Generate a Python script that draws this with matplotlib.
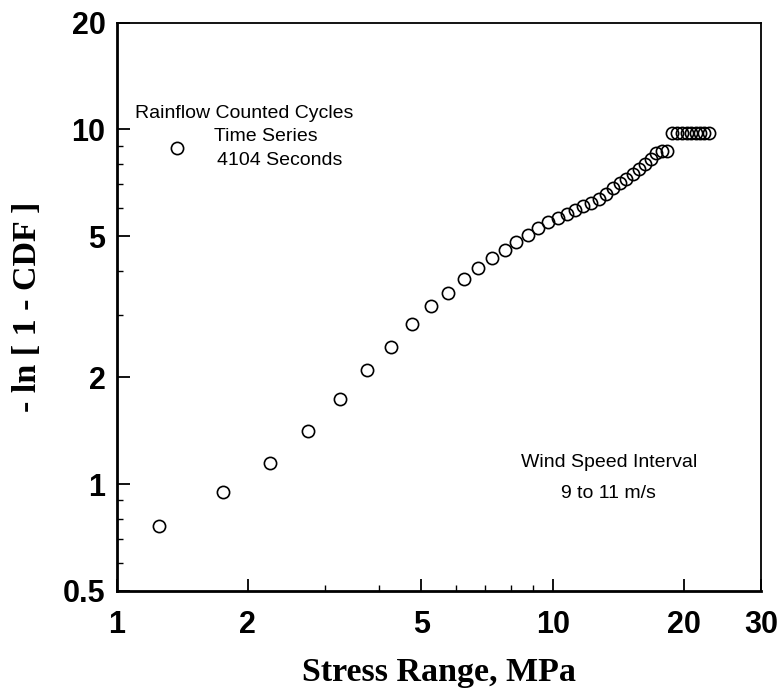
import matplotlib
matplotlib.use("Agg")
import matplotlib.pyplot as plt
from matplotlib.ticker import FixedLocator, FixedFormatter, NullFormatter

# ---- data ----
stress_range = [1.25, 1.75, 2.25, 2.75, 3.25, 3.75, 4.25, 4.75, 5.25, 5.75,
                6.25, 6.75, 7.25, 7.75, 8.25, 8.75, 9.25, 9.75, 10.25, 10.75,
                11.25, 11.75, 12.25, 12.75, 13.25, 13.75, 14.25, 14.75, 15.25, 15.75,
                16.25, 16.75, 17.25, 17.75, 18.25,
                18.75, 19.25, 19.75, 20.25, 20.75, 21.25, 21.75, 22.25, 22.75]
neg_ln_1_cdf = [0.761, 0.950, 1.146, 1.411, 1.737, 2.094, 2.444, 2.835, 3.181, 3.47,
                3.78, 4.07, 4.35, 4.58, 4.83, 5.04, 5.27, 5.47, 5.64, 5.78,
                5.92, 6.07, 6.21, 6.36, 6.58, 6.82, 7.05, 7.25, 7.49, 7.72,
                8.00, 8.28, 8.58, 8.72, 8.72,
                9.77, 9.77, 9.77, 9.77, 9.77, 9.77, 9.77, 9.77, 9.77]

x_major = [1, 2, 5, 10, 20, 30]
x_major_labels = ["1", "2", "5", "10", "20", "30"]
x_minor = [3, 4, 6, 7, 8, 9]
y_major = [0.5, 1, 2, 5, 10, 20]
y_major_labels = ["0.5", "1", "2", "5", "10", "20"]
y_minor = [0.6, 0.7, 0.8, 0.9, 3, 4, 6, 7, 8, 9]

fig = plt.figure(figsize=(7.79, 6.88), dpi=100)
ax = fig.add_axes([0.1496, 0.141, 0.8273, 0.826])

ax.plot(stress_range, neg_ln_1_cdf, linestyle="none", marker="o", markersize=8.8,
        markerfacecolor="none", markeredgecolor="black", markeredgewidth=1.2)

ax.set_xscale("log")
ax.set_yscale("log")
ax.set_xlim(1, 30)
ax.set_ylim(0.5, 20)

ax.xaxis.set_major_locator(FixedLocator(x_major))
ax.xaxis.set_major_formatter(FixedFormatter(x_major_labels))
ax.xaxis.set_minor_locator(FixedLocator(x_minor))
ax.xaxis.set_minor_formatter(NullFormatter())
ax.yaxis.set_major_locator(FixedLocator(y_major))
ax.yaxis.set_major_formatter(FixedFormatter(y_major_labels))
ax.yaxis.set_minor_locator(FixedLocator(y_minor))
ax.yaxis.set_minor_formatter(NullFormatter())

ax.tick_params(which="major", direction="in", length=9, width=1.3, pad=8,
               labelsize=22)
ax.tick_params(which="minor", direction="in", length=4, width=1.0)
ax.tick_params(axis="x", which="major", pad=14)
for lab in ax.get_xticklabels() + ax.get_yticklabels():
    lab.set_fontfamily("Liberation Sans")
    lab.set_fontweight("bold")
    lab.set_fontsize(22)

for side in ["left", "bottom"]:
    ax.spines[side].set_linewidth(2.0)
for side in ["top", "right"]:
    ax.spines[side].set_linewidth(1.3)

label_font = {"family": "Liberation Serif", "weight": "bold", "size": 24.5}
ax.set_xlabel("Stress Range, MPa", fontdict=label_font, labelpad=12)
ax.set_ylabel("- ln [ 1 - CDF ]", fontdict=label_font, labelpad=14)

ann_font = {"family": "Liberation Sans", "size": 14}
ax.text(0.0287, 0.841, "Rainflow Counted Cycles", transform=ax.transAxes,
        ha="left", va="center", fontdict=ann_font)
ax.text(0.151, 0.799, "Time Series", transform=ax.transAxes,
        ha="left", va="center", fontdict=ann_font)
ax.text(0.156, 0.758, "4104 Seconds", transform=ax.transAxes,
        ha="left", va="center", fontdict=ann_font)
ax.plot([0.0943], [0.780], transform=ax.transAxes, linestyle="none", marker="o",
        markersize=8.8, markerfacecolor="none", markeredgecolor="black",
        markeredgewidth=1.2)
ax.text(0.764, 0.226, "Wind Speed Interval", transform=ax.transAxes,
        ha="center", va="center", fontdict=ann_font)
ax.text(0.764, 0.171, "9 to 11 m/s", transform=ax.transAxes,
        ha="center", va="center", fontdict=ann_font)

fig.savefig("out.png", dpi=100)
